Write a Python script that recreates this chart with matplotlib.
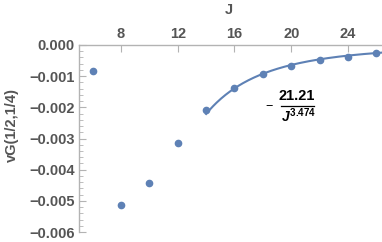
import numpy as np
import matplotlib
matplotlib.use("Agg")
import matplotlib.pyplot as plt
from matplotlib.ticker import MultipleLocator, FuncFormatter

J = [6, 8, 10, 12, 14, 16, 18, 20, 22, 24, 26]
vG = [-0.00085, -0.00512, -0.00444, -0.00313, -0.00210, -0.00139,
      -0.00094, -0.00066, -0.00047, -0.00037, -0.00027]
fit_a = 21.21
fit_b = 3.474
xticks = [8, 12, 16, 20, 24]
yticks = [0.000, -0.001, -0.002, -0.003, -0.004, -0.005, -0.006]

plt.rcParams['font.family'] = ['Liberation Sans', 'DejaVu Sans']
plt.rcParams['mathtext.fontset'] = 'custom'
plt.rcParams['mathtext.rm'] = 'Liberation Sans:bold'
plt.rcParams['mathtext.it'] = 'Liberation Sans:bold:italic'
plt.rcParams['mathtext.bf'] = 'Liberation Sans:bold'
blue = '#5E81B5'
gray = '#555555'
axc = '#b3b3b3'

fig = plt.figure(figsize=(3.82, 2.42), dpi=100)
W, H = 382, 242
ax = fig.add_axes([79 / W, (H - 232) / H, (382 - 79) / W, (232 - 45) / H])

jf = np.linspace(14, 26.4, 200)
ax.plot(jf, -fit_a / jf ** fit_b, color=blue, lw=1.5, clip_on=False)
ax.plot(J, vG, 'o', color=blue, ms=4.5, clip_on=False)

ax.set_xlim(5.04, 26.4)
ax.set_ylim(-0.006, 0.0)

for s in ['right', 'bottom']:
    ax.spines[s].set_visible(False)
for s in ['left', 'top']:
    ax.spines[s].set_color(axc)
    ax.spines[s].set_linewidth(1.0)

ax.xaxis.set_ticks_position('top')
ax.xaxis.set_label_position('top')
ax.set_xticks(xticks)
ax.set_yticks(yticks)
ax.yaxis.set_minor_locator(MultipleLocator(0.0002))
ax.yaxis.set_major_formatter(FuncFormatter(lambda v, p: ('%.3f' % v).replace('-', '\u2212') if abs(v) > 1e-12 else '0.000'))
ax.tick_params(axis='both', which='major', direction='in', length=5, width=0.8,
               color=axc, labelcolor=gray, labelsize=10.5, pad=3)
ax.tick_params(axis='both', which='minor', direction='in', length=3, width=0.6, color=axc)
for lab in ax.get_xticklabels() + ax.get_yticklabels():
    lab.set_fontweight('bold')

fig.text(229 / W, 1 - 10 / H, 'J', color=gray, fontsize=10.5, fontweight='bold',
         ha='center', va='center')
fig.text(12 / W, 1 - 125 / H, 'vG(1/2,1/4)', color=gray, fontsize=10.5,
         fontweight='bold', rotation=90, ha='center', va='center')

# fit label
fig.text(268.5 / W, 1 - 107 / H, '\u2212', color='black', fontsize=9, ha='center', va='center')
fig.text(297 / W, 1 - 96.5 / H, '%.2f' % fit_a, color='black', fontsize=10.5,
         fontweight='bold', ha='center', va='center')
fig.add_artist(plt.Line2D([281 / W, 314 / W], [1 - 106 / H, 1 - 106 / H],
                          transform=fig.transFigure, color='black', lw=0.9))
fig.text(298 / W, 1 - 115.5 / H, r'$\mathit{J}^{\mathrm{%.3f}}$' % fit_b, color='black',
         fontsize=10, ha='center', va='center')

fig.savefig('out.png', dpi=100)
